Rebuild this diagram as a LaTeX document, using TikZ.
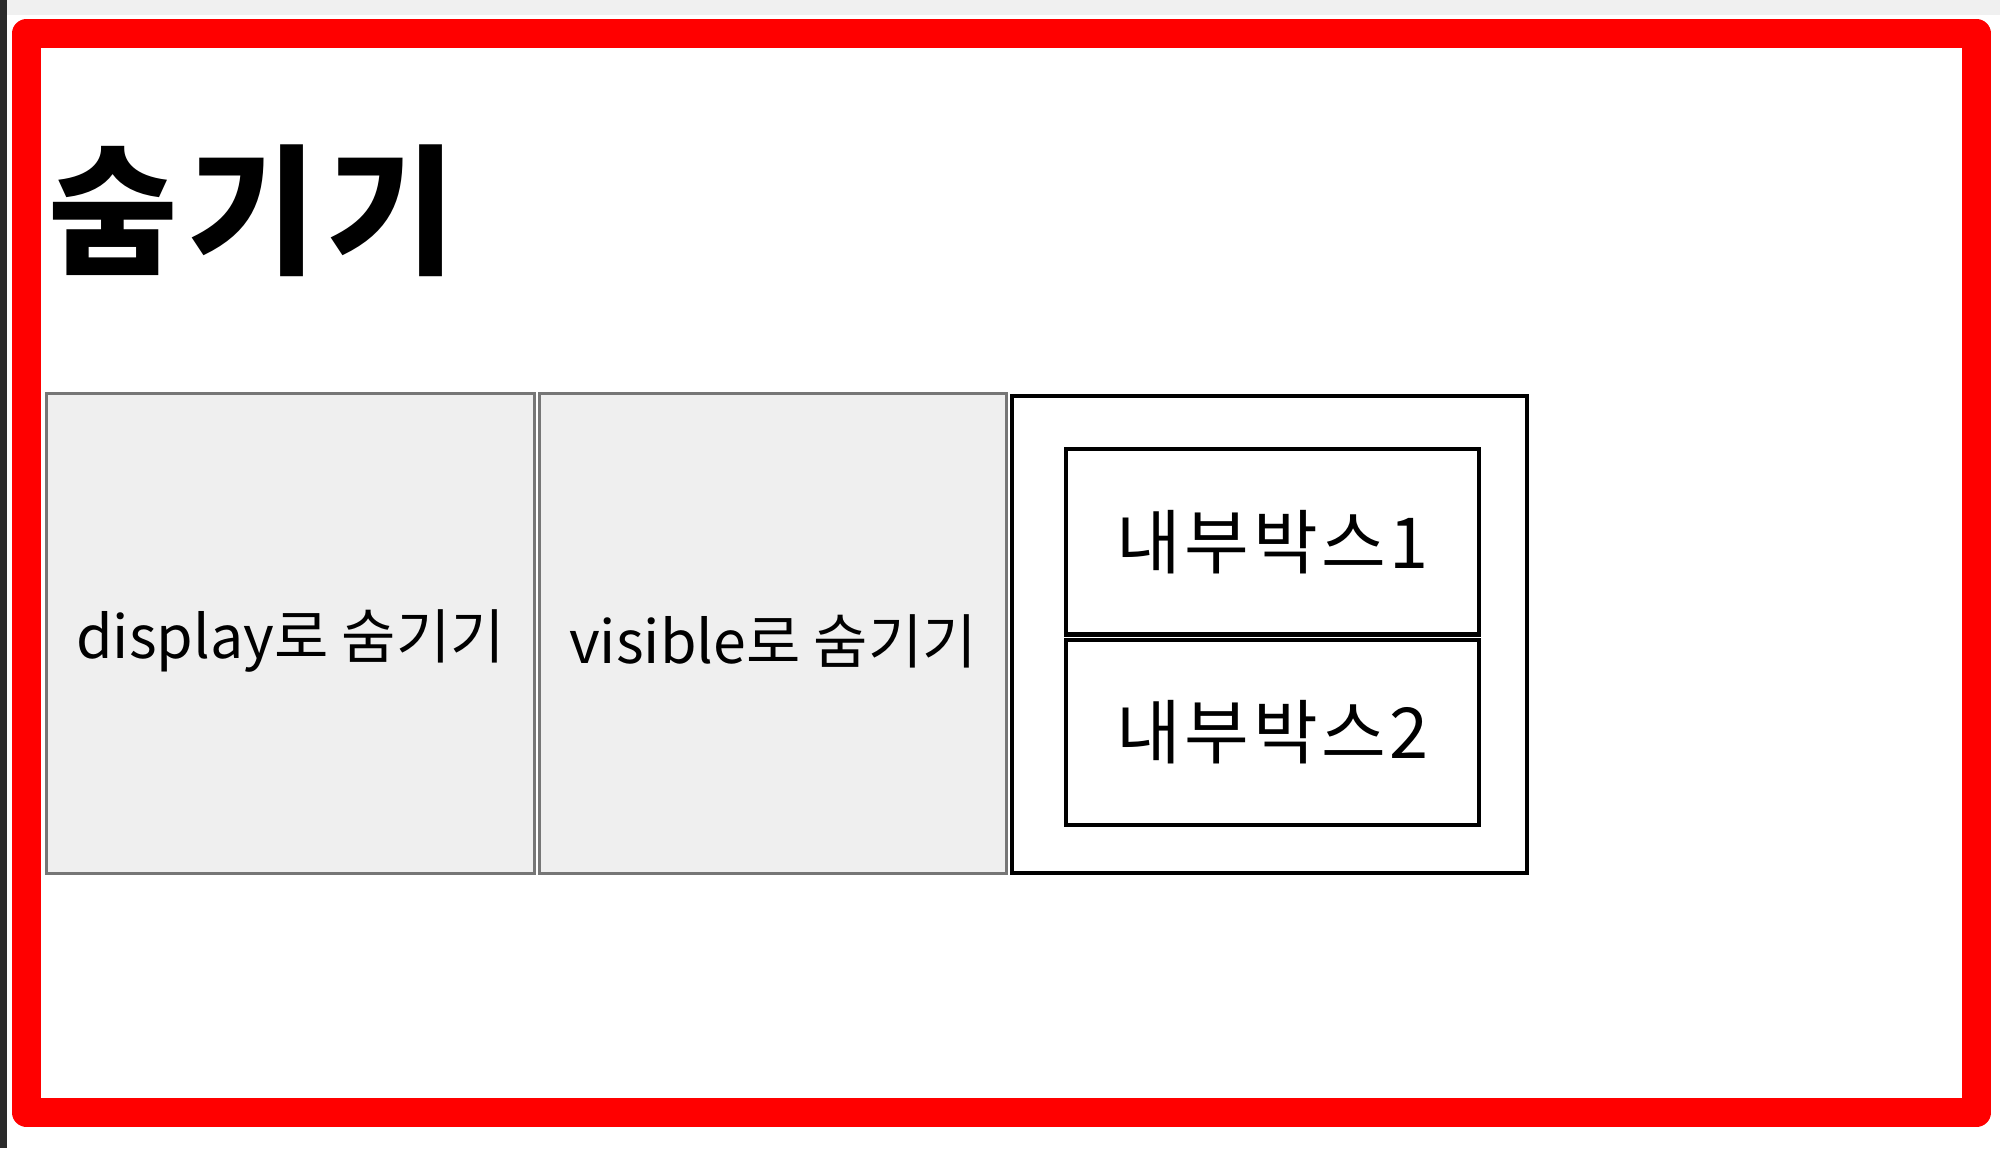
\documentclass[tikz,border=0pt]{standalone}
\usepackage{fontspec}
\setmainfont{Noto Sans CJK KR}
\usepackage{tikz}
\usetikzlibrary{positioning}

\definecolor{boxfill}{HTML}{EFEFEF}
\definecolor{boxgray}{HTML}{767676}
\definecolor{pagegray}{HTML}{F0F0F0}
\definecolor{edgedark}{HTML}{2B2B2B}

% lower a label a little, keeping its height and depth
\newcommand{\lowertext}[1]{\raisebox{-0.08cm}[\height][\depth]{#1}}

\begin{document}
\begin{tikzpicture}[x=0.01cm,y=-0.01cm,very thick]
  \tikzstyle{hidebox}=[draw=boxgray,fill=boxfill,line width=0.03cm,minimum height=4.795cm,inner sep=0,font=\fontsize{16.8}{20}\selectfont]
  \tikzstyle{innerbox}=[draw=black,fill=white,line width=0.045cm,minimum width=4.13cm,minimum height=1.85cm,inner sep=0,font=\fontsize{20}{24}\selectfont\addfontfeatures{LetterSpace=5}]

  \useasboundingbox (0,0) rectangle (2000,1148);
  \fill[white] (0,0) rectangle (2000,1148);
  \fill[pagegray] (0,0) rectangle (2000,15);
  \fill[edgedark] (0,0) rectangle (7,1148);

  \node[draw=red,line width=0.29cm,line join=round,minimum width=19.48cm,minimum height=10.79cm] at (1001.5,573) (frame) {};

  \node[anchor=base west,inner sep=0,font=\fontsize{40}{46}\selectfont\bfseries\addfontfeatures{LetterSpace=7}] at (46,263) (title) {숨기기};

  \node[hidebox,minimum width=4.87cm] at ( 290.5,633.25) (display) {\lowertext{display로 숨기기}};
  \node[hidebox,minimum width=4.66cm] at ( 773.0,633.25) (visible) {\lowertext{visible로 숨기기}};

  \node[draw=black,fill=white,line width=0.045cm,minimum width=5.147cm,minimum height=4.768cm] at (1269.35,634.4) (outer) {};
  \node[innerbox] at (1272.5,541.75) (inner1) {내부박스1};
  \node[innerbox] at (1272.5,732.5) (inner2) {내부박스2};
\end{tikzpicture}
\end{document}
